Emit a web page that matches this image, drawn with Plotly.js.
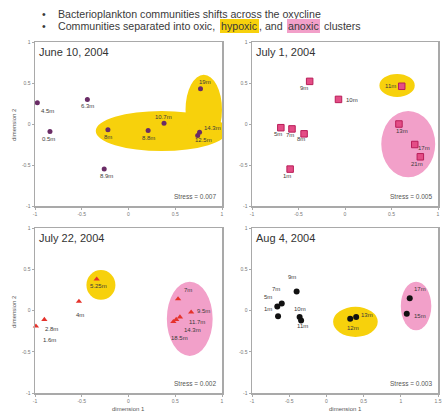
<!DOCTYPE html>
<html><head><meta charset="utf-8">
<script src="https://cdn.plot.ly/plotly-3.0.1.min.js"></script>
<style>html,body{margin:0;padding:0;background:#fff}#chart{width:444px;height:413px}</style>
</head><body><div id="chart"></div>
<script>
// ---- data ----
const dates = ['June 10, 2004', 'July 1, 2004', 'July 22, 2004', 'Aug 4, 2004'];
const stress = ['0.007', '0.005', '0.002', '0.003'];
const headLine1 = 'Bacterioplankton communities shifts across the oxycline';
const headLine2 = ['Communities separated into oxic, ', 'hypoxic', ', and ', 'anoxic', ' clusters'];

const junDepths = ['4.5m','0.5m','6.3m','8.9m','8m','8.8m','10.7m','19m','14.3m','12.5m'];
const junX = [-0.975,-0.84,-0.44,-0.26,-0.22,0.21,0.38,0.77,0.76,0.74];
const junY = [0.26,-0.09,0.30,-0.55,-0.07,-0.08,0.01,0.43,-0.10,-0.14];

const jul1Depths = ['9m','10m','5m','7m','8m','1m','11m','13m','17m','21m'];
const jul1X = [-0.38,-0.07,-0.69,-0.57,-0.44,-0.59,0.61,0.58,0.75,0.81];
const jul1Y = [0.52,0.30,-0.045,-0.06,-0.12,-0.55,0.46,0.00,-0.25,-0.40];

const jul22Depths = ['1.6m','2.8m','4m','5.25m','7m','9.5m','11.7m','14.3m','18.5m'];
const jul22X = [-0.99,-0.90,-0.53,-0.34,0.53,0.67,0.55,0.51,0.48];
const jul22Y = [-0.19,-0.11,0.11,0.38,0.14,-0.02,-0.08,-0.11,-0.135];

const augDepths = ['9m','7m','5m','1m','10m','11m','12m','13m','17m','15m'];
const augX = [-0.40,-0.60,-0.66,-0.65,-0.36,-0.34,0.32,0.40,1.12,1.08];
const augY = [0.23,0.085,0.05,-0.07,-0.08,-0.12,-0.10,-0.08,0.15,-0.04];

// cluster outlines: [x0, x1, y0, y1]
const junHypoxic = [[-0.35,1.06,-0.33,0.16],[0.61,1.0,-0.25,0.60]];
const junAnoxic = [];
const jul1Hypoxic = [[0.37,0.75,0.33,0.61]];
const jul1Anoxic = [[0.39,0.97,-0.65,0.16]];
const jul22Hypoxic = [[-0.45,-0.14,0.13,0.49]];
const jul22Anoxic = [[0.41,0.90,-0.55,0.35]];
const augHypoxic = [[0.09,0.69,-0.32,0.045]];
const augAnoxic = [[1.0,1.41,-0.24,0.35]];

const tickVals = [-1,-0.5,0,0.5,1,1.5];
const tickText = ['-1','-0.5','0','0.5','1','1.5'];

// ---- styles (label offsets in px: [dx, dy-down]) ----
const junOff = [[10,8],[-1,8],[0,7],[2,7],[0,7],[0,7],[-1,-6],[4,-7],[13,-4],[6,5]];
const jul1Off = [[-6,7],[14,1],[-3,6],[-2,6],[-3,5],[-3,7],[-11,0],[3,7],[9,4],[-3,7]];
const jul22Off = [[14,14],[7,9],[1,14],[2,7],[10,-9],[12,-1],[17,5],[16,10],[6,16]];
const augOff = [[-5,-15],[-6,-14],[-9,-9],[-10,-7],[0,-8],[1,6],[3,9],[11,-2],[10,-9],[13,2]];

const W = 444, H = 413;
const fx = v => v / W, fy = v => 1 - v / H;
const YELLOW = '#f7d10c', PINK = '#f2a0c9';
const FONT = 'Liberation Sans, Arial, sans-serif';

const panels = [
  {x: junX, y: junY, t: junDepths, off: junOff, hyp: junHypoxic, an: junAnoxic,
   marker: {symbol: 'circle', size: 5, color: '#6a2c66', line: {width: 0}}, range: [-1, 1]},
  {x: jul1X, y: jul1Y, t: jul1Depths, off: jul1Off, hyp: jul1Hypoxic, an: jul1Anoxic,
   marker: {symbol: 'square', size: 6.5, color: '#e44d86', line: {width: 1, color: '#b81d58'}}, range: [-1, 1]},
  {x: jul22X, y: jul22Y, t: jul22Depths, off: jul22Off, hyp: jul22Hypoxic, an: jul22Anoxic,
   marker: {symbol: 'triangle-up', size: 5.5, color: '#e5322b', line: {width: 0}}, range: [-1, 1]},
  {x: augX, y: augY, t: augDepths, off: augOff, hyp: augHypoxic, an: augAnoxic,
   marker: {symbol: 'circle', size: 6, color: '#111111', line: {width: 0}}, range: [-1, 1.5]}
];

const xDom = [[fx(35), fx(222)], [fx(252), fx(438)], [fx(35), fx(222)], [fx(252), fx(438)]];
const yDom = [[fy(206), fy(42)], [fy(206), fy(42)], [fy(393), fy(228)], [fy(393), fy(228)]];

const data = [], shapes = [], annotations = [];
const layout = {
  width: W, height: H, margin: {l: 0, r: 0, t: 0, b: 0},
  paper_bgcolor: '#fff', plot_bgcolor: '#fff', showlegend: false,
  font: {family: FONT}
};

panels.forEach((p, i) => {
  const n = i + 1;
  const xk = n === 1 ? 'x' : 'x' + n, yk = n === 1 ? 'y' : 'y' + n;
  const axBase = {
    showline: true, mirror: true, linecolor: '#a9a9a9', linewidth: 1.5,
    ticks: 'outside', ticklen: 2, tickcolor: '#aaa', tickwidth: 1,
    tickfont: {size: 5, color: '#777', family: FONT},
    tickvals: tickVals, ticktext: tickText,
    showgrid: false, zeroline: false, fixedrange: true
  };
  layout['xaxis' + (n === 1 ? '' : n)] = Object.assign({}, axBase, {domain: xDom[i], range: p.range, anchor: yk});
  layout['yaxis' + (n === 1 ? '' : n)] = Object.assign({}, axBase, {domain: yDom[i], range: [-1, 1], anchor: xk});

  p.hyp.forEach(e => shapes.push({type: 'circle', xref: xk, yref: yk, x0: e[0], x1: e[1], y0: e[2], y1: e[3],
    fillcolor: YELLOW, line: {width: 0}, layer: 'below'}));
  p.an.forEach(e => shapes.push({type: 'circle', xref: xk, yref: yk, x0: e[0], x1: e[1], y0: e[2], y1: e[3],
    fillcolor: PINK, line: {width: 0}, layer: 'below'}));

  data.push({type: 'scatter', mode: 'markers', x: p.x, y: p.y, xaxis: xk, yaxis: yk,
    marker: p.marker, hoverinfo: 'skip', cliponaxis: false});

  p.t.forEach((lab, j) => annotations.push({
    xref: xk, yref: yk, x: p.x[j], y: p.y[j], text: lab, showarrow: false,
    xshift: p.off[j][0], yshift: -p.off[j][1], xanchor: 'center', yanchor: 'middle',
    font: {size: 6, color: '#3a3a3a', family: FONT}
  }));

  annotations.push({xref: xk + ' domain', yref: yk + ' domain', x: 0.01, y: 0.985,
    xanchor: 'left', yanchor: 'top', text: dates[i], showarrow: false,
    font: {size: 11, color: '#333', family: FONT}});
  annotations.push({xref: xk + ' domain', yref: yk + ' domain', x: 0.98, y: 0.06,
    xanchor: 'right', yanchor: 'middle', text: 'Stress = ' + stress[i], showarrow: false,
    font: {size: 6.5, color: '#555', family: FONT}});
});

// axis titles
[[fx(128), fy(409)], [fx(345), fy(409)]].forEach(pos => annotations.push({
  xref: 'paper', yref: 'paper', x: pos[0], y: pos[1], text: 'dimension 1', showarrow: false,
  xanchor: 'center', yanchor: 'middle', font: {size: 6, color: '#555', family: FONT}}));
[[fx(14), fy(124)], [fx(14), fy(311)]].forEach(pos => annotations.push({
  xref: 'paper', yref: 'paper', x: pos[0], y: pos[1], text: 'dimension 2', showarrow: false,
  textangle: -90, xanchor: 'center', yanchor: 'middle', font: {size: 6, color: '#555', family: FONT}}));

// header bullets: size fitted so line 1 spans the reference width (58 -> 321 px)
const ctx = document.createElement('canvas').getContext('2d');
const measure = (t, s) => { ctx.font = s + 'px "Liberation Sans", Arial, sans-serif'; return ctx.measureText(t).width; };
const hSize = Math.max(8, Math.min(12, 10 * 263 / measure(headLine1, 10)));
const hdr = {size: hSize, color: '#3a3a3a', family: FONT};
const head = (x, y, text, bg, pad) => annotations.push({xref: 'paper', yref: 'paper', x: fx(x), y: fy(y),
  xanchor: 'left', yanchor: 'middle', text: text, showarrow: false, font: hdr,
  bgcolor: bg || 'rgba(0,0,0,0)', borderpad: pad || 0, borderwidth: 0});
head(42, 14, '•'); head(42, 26, '•');
head(58, 14, headLine1);
let hx = 58;
const hl = [null, YELLOW, null, PINK, null];
headLine2.forEach((seg, k) => {
  const lead = seg.length - seg.trimStart().length;
  const leadW = lead ? measure(seg.slice(0, lead), hSize) : 0;
  const pad = hl[k] ? 1 : 0;
  head(hx + leadW, 26, seg.trim(), hl[k], pad);
  hx += measure(seg, hSize) + 2 * pad + 1.5;
});

layout.shapes = shapes;
layout.annotations = annotations;
Plotly.newPlot('chart', data, layout, {displayModeBar: false, staticPlot: true});
</script></body></html>
